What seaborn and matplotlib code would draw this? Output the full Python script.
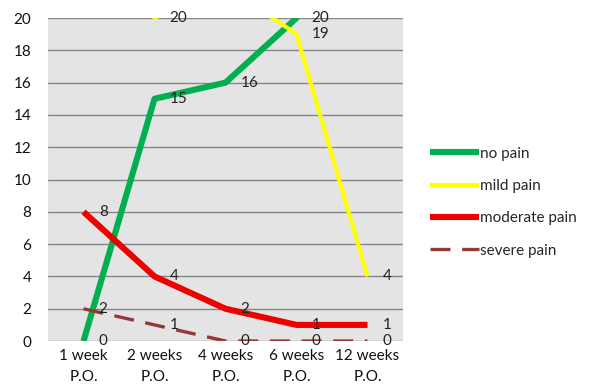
import matplotlib
matplotlib.use('Agg')
import matplotlib.pyplot as plt
import seaborn as sns
import numpy as np
import pandas as pd

# weeks after operation
periods = ['1 week\nP.O.', '2 weeks\nP.O.', '4 weeks\nP.O.', '6 weeks\nP.O.', '12 weeks\nP.O.']
no_pain = [0, 15, 16, 20, 35]
mild_pain = [30, 20, 22, 19, 4]
moderate_pain = [8, 4, 2, 1, 1]
severe_pain = [2, 1, 0, 0, 0]

series = [
    ('no pain', no_pain, '#00b050', 4.4, '-'),
    ('mild pain', mild_pain, '#ffff00', 3.0, '-'),
    ('moderate pain', moderate_pain, '#ee0000', 4.4, '-'),
    ('severe pain', severe_pain, '#953735', 2.4, (0, (6, 3.5))),
]

sns.set_style('white')
plt.rcParams['font.family'] = ['Lato', 'DejaVu Sans']

fig = plt.figure(figsize=(5.95, 3.92), dpi=100)
ax = fig.add_axes([0.0807, 0.130, 0.5966, 0.824])
ax.set_facecolor('#e4e4e4')

x = np.arange(len(periods))
for name, vals, col, lw, ls in series:
    sns.lineplot(x=x, y=vals, ax=ax, color=col, linewidth=lw, linestyle=ls,
                 label=name, solid_capstyle='butt', dash_capstyle='butt',
                 solid_joinstyle='round')
    for xi, v in zip(x, vals):
        if 0 <= v <= 20:
            ax.annotate(str(v), (xi, v), xytext=(11, 0), textcoords='offset points',
                        va='center', ha='left', fontsize=11, color='#222222',
                        annotation_clip=False)

ax.set_xlim(-0.5, 4.5)
ax.set_ylim(0, 20)
ax.set_yticks(range(0, 21, 2))
ax.set_xticks(x)
ax.set_xticklabels(periods, linespacing=1.6)
ax.tick_params(axis='both', labelsize=11, length=0, colors='#111111')
ax.tick_params(axis='y', pad=12)
ax.tick_params(axis='x', pad=6)
ax.grid(axis='y', color='#868686', linewidth=1)
ax.set_axisbelow(True)
for s in ax.spines.values():
    s.set_visible(False)
ax.set_xlabel('')
ax.set_ylabel('')

ax.legend(loc='center left', bbox_to_anchor=(1.037, 0.43), frameon=False,
          fontsize=11, handlelength=3.2, handletextpad=0.1, labelspacing=1.2)

fig.savefig('out.png', dpi=100)
